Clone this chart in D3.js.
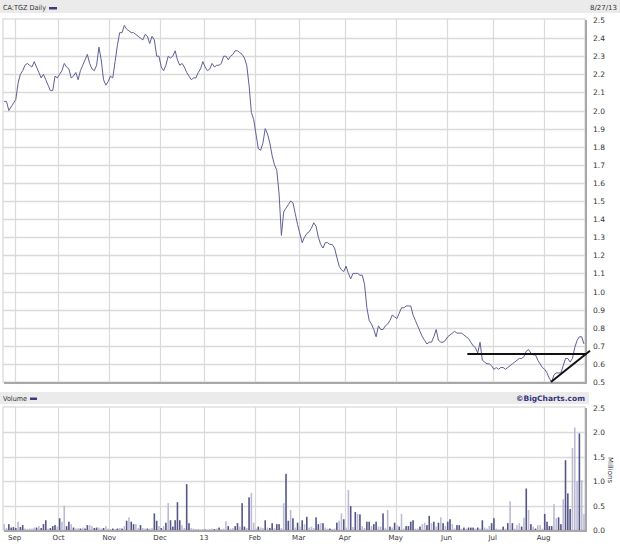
<!DOCTYPE html>
<html>
<head>
<meta charset="utf-8">
<script src="https://cdn.jsdelivr.net/npm/d3@7"></script>
<style>
  body { margin: 0; background: #fff; }
  svg text { font-family: "DejaVu Sans", sans-serif; fill: #333; }
</style>
</head>
<body>
<div id="chart"></div>
<script>
// daily closes, CA:TGZ, 8/28/12 .. 8/27/13 (trading days)
const closes = [
  2.05,2.05,2.00,2.02,2.04,2.06,2.15,2.20,2.22,2.25,
  2.26,2.25,2.24,2.27,2.24,2.21,2.18,2.20,2.17,2.14,
  2.11,2.11,2.19,2.18,2.20,2.22,2.26,2.24,2.23,2.18,
  2.19,2.21,2.17,2.22,2.25,2.28,2.31,2.26,2.23,2.22,
  2.25,2.35,2.28,2.17,2.14,2.16,2.19,2.18,2.27,2.36,
  2.43,2.43,2.47,2.45,2.44,2.43,2.43,2.42,2.41,2.40,
  2.39,2.42,2.41,2.37,2.41,2.39,2.30,2.30,2.24,2.22,
  2.25,2.30,2.29,2.30,2.33,2.28,2.25,2.26,2.24,2.21,
  2.19,2.17,2.18,2.18,2.21,2.23,2.27,2.24,2.22,2.23,
  2.26,2.24,2.25,2.25,2.26,2.30,2.30,2.28,2.30,2.31,
  2.33,2.33,2.32,2.31,2.29,2.25,2.14,1.99,1.95,1.87,
  1.79,1.78,1.82,1.90,1.87,1.82,1.75,1.70,1.67,1.54,
  1.31,1.44,1.46,1.48,1.50,1.49,1.43,1.37,1.32,1.27,
  1.30,1.32,1.33,1.35,1.38,1.36,1.30,1.26,1.24,1.27,
  1.27,1.26,1.26,1.24,1.19,1.14,1.12,1.11,1.14,1.10,
  1.07,1.10,1.10,1.10,1.09,1.09,1.04,0.91,0.84,0.82,
  0.79,0.75,0.81,0.79,0.79,0.81,0.82,0.84,0.87,0.86,
  0.85,0.88,0.91,0.91,0.92,0.92,0.92,0.87,0.84,0.81,
  0.78,0.75,0.73,0.71,0.72,0.72,0.75,0.79,0.73,0.72,
  0.72,0.73,0.75,0.76,0.77,0.78,0.77,0.77,0.77,0.76,
  0.75,0.74,0.72,0.70,0.69,0.66,0.72,0.62,0.61,0.60,
  0.60,0.59,0.57,0.58,0.57,0.58,0.58,0.57,0.58,0.59,
  0.60,0.61,0.62,0.63,0.63,0.64,0.67,0.68,0.66,0.65,
  0.65,0.62,0.60,0.58,0.57,0.55,0.52,0.50,0.54,0.55,
  0.55,0.55,0.59,0.63,0.63,0.61,0.63,0.69,0.73,0.75,
  0.75,0.71
];

// daily volume, millions
const volumes = [
  .12,.04,.12,.05,.06,.04,.17,.06,.10,.03,
  .02,.03,.03,.05,.05,.08,.04,.12,.20,.03,
  .04,.08,.10,.07,.24,.17,.50,.08,.17,.12,
  .05,.03,.04,.03,.05,.03,.10,.10,.08,.04,
  .05,.05,.03,.04,.08,.03,.02,.03,.02,.03,
  .04,.03,.08,.19,.26,.17,.12,.12,.04,.10,
  .04,.03,.03,.03,.04,.34,.19,.08,.04,.08,
  .15,.55,.20,.07,.20,.57,.20,.10,.04,.94,
  .14,.04,.03,.02,.02,.01,.02,.01,.01,.02,
  .03,.02,.03,.05,.02,.03,.18,.08,.03,.04,
  .08,.14,.07,.55,.07,.04,.67,.76,.15,.03,
  .07,.05,.04,.20,.05,.04,.14,.04,.12,.12,
  .04,.55,1.15,.19,.41,.24,.05,.15,.07,.20,
  .12,.27,.05,.07,.04,.26,.12,.14,.14,.05,
  .03,.03,.02,.03,.15,.19,.34,.22,.05,.82,
  .49,.06,.37,.33,.32,.08,.04,.17,.17,.08,
  .12,.17,.07,.07,.34,.04,.41,.07,.05,.15,
  .10,.07,.33,.03,.08,.08,.17,.20,.03,.03,
  .07,.12,.15,.10,.29,.14,.17,.07,.15,.26,
  .14,.08,.17,.22,.12,.03,.10,.10,.03,.05,
  .03,.05,.05,.05,.03,.05,.03,.20,.05,.03,
  .08,.14,.24,.03,.02,.01,.07,.03,.14,.59,
  .14,.03,.10,.14,.07,.25,.85,.41,.12,.07,
  .03,.10,.10,.03,.33,.17,.08,.08,.53,.24,
  .26,.12,.63,1.43,.75,.43,1.68,2.10,1.00,1.98,
  1.02,.33
];

// bar shade: 1 = dark, 0 = light
const volDark = [
  0,0,1,1,1,1,0,1,1,0, 0,0,0,0,1,0,1,1,1,0, 1,1,1,0,1,0,0,1,1,0,
  1,0,0,1,0,1,1,0,0,1, 1,0,0,1,0,0,0,1,0,1, 0,1,0,1,0,1,1,0,0,1,
  0,0,1,0,0,1,1,0,1,0, 1,0,1,1,1,1,1,0,0,1, 1,0,0,0,0,0,0,1,0,0,
  0,1,0,1,0,0,0,1,0,0, 1,1,0,1,1,0,1,0,0,0, 1,0,0,1,0,1,1,0,1,1,
  0,0,1,1,0,1,0,1,0,1, 0,1,0,0,0,1,1,0,1,0, 0,1,0,0,1,0,0,1,0,0,
  1,0,1,0,1,0,0,1,1,0, 1,1,0,0,1,0,0,1,0,1, 0,1,0,0,1,1,1,1,0,0,
  1,0,0,1,1,0,1,0,1,0, 1,0,1,1,0,0,1,1,0,1, 0,1,1,1,0,1,0,1,0,0,
  0,1,1,0,0,0,1,0,1,0, 1,0,0,0,1,0,1,0,1,0, 1,0,0,0,1,1,1,1,0,0,
  1,1,0,1,1,1,0,0,0,1, 0,0
];

const monthLabels = ["Sep","Oct","Nov","Dec","13","Feb","Mar","Apr","May","Jun","Jul","Aug"];
const monthStart = [5,24,46,68,87,109,128,148,170,192,212,234];   // index of first trading day
const priceTicks = [0.5,0.6,0.7,0.8,0.9,1.0,1.1,1.2,1.3,1.4,1.5,1.6,1.7,1.8,1.9,2.0,2.1,2.2,2.3,2.4,2.5];
const volTicks = [0,0.5,1.0,1.5,2.0,2.5];

// hand drawn trend lines (index, price)
const flatLine = [[200.5, 0.655], [252.2, 0.655]];
const riseLine = [[236.7, 0.50], [253.6, 0.673]];

const W = 620, H = 544;
const left = 3, right = 585;
const svg = d3.select("#chart").append("svg")
  .attr("width", W).attr("height", H);

var x = d3.scaleLinear().domain([0, closes.length - 1]).range([4.2, 584]);
var step = x(1) - x(0);
var yP = d3.scaleLinear().domain([0.5, 2.5]).range([382, 20]);
var yV = d3.scaleLinear().domain([0, 2.5]).range([530, 408]);

const gridCol = "#dadada", lineCol = "#5f5f95";

// header bands
svg.append("rect").attr("x", 0).attr("y", 0).attr("width", W).attr("height", 13).attr("fill", "#ebebeb");
svg.append("text").attr("x", 3).attr("y", 10).style("font-size", "7px")
  .attr("textLength", 43).attr("lengthAdjust", "spacingAndGlyphs").text("CA:TGZ Daily");
svg.append("rect").attr("x", 49).attr("y", 7).attr("width", 8).attr("height", 2.5).attr("fill", "#3c3c7c");
svg.append("text").attr("x", 617).attr("y", 10).attr("text-anchor", "end").style("font-size", "7px").text("8/27/13");

svg.append("rect").attr("x", 0).attr("y", 392).attr("width", 589).attr("height", 12).attr("fill", "#ebebeb");
svg.append("text").attr("x", 3).attr("y", 401).style("font-size", "7px")
  .attr("textLength", 24).attr("lengthAdjust", "spacingAndGlyphs").text("Volume");
svg.append("rect").attr("x", 30).attr("y", 397.5).attr("width", 7).attr("height", 2.5).attr("fill", "#3c3c7c");
svg.append("text").attr("x", 585).attr("y", 401).attr("text-anchor", "end")
  .style("font-size", "7.5px").style("font-weight", "bold").style("fill", "#34347a").text("\u00a9BigCharts.com");

function panel(top, bottom, yScale, ticks) {
  const g = svg.append("g");
  g.append("rect").attr("x", left).attr("y", top).attr("width", right - left).attr("height", bottom - top)
    .attr("fill", "#fff").attr("stroke", "#d0d0d0");
  g.selectAll(".hg").data(ticks.slice(1, -1)).enter().append("line")
    .attr("x1", left).attr("x2", right)
    .attr("y1", d => Math.round(yScale(d)) + 0.5).attr("y2", d => Math.round(yScale(d)) + 0.5)
    .attr("stroke", gridCol).attr("stroke-width", 1.4);
  g.selectAll(".vg").data(monthStart).enter().append("line")
    .attr("x1", d => Math.round(x(d) - step / 2) + 0.5).attr("x2", d => Math.round(x(d) - step / 2) + 0.5)
    .attr("y1", top).attr("y2", bottom)
    .attr("stroke", gridCol).attr("stroke-width", 1.2);
  // shadow on right & bottom
  g.append("path").attr("d", `M${right + 1},${top + 1}V${bottom + 1}H${left + 1}`)
    .attr("fill", "none").attr("stroke", "#a8a8a8").attr("stroke-width", 2);
  // axis labels
  g.selectAll(".tl").data(ticks).enter().append("text")
    .attr("x", 593).attr("y", d => yScale(d) + 3)
    .style("font-size", "7.5px").text(d => d.toFixed(1));
  return g;
}

panel(19, 382, yP, priceTicks);
panel(407, 530, yV, volTicks);

// price line
svg.append("path").datum(closes)
  .attr("fill", "none").attr("stroke", lineCol).attr("stroke-width", 1)
  .attr("d", d3.line().x((d, i) => x(i)).y(d => yP(d)));

// trend lines
const tl = d3.line().x(d => x(d[0])).y(d => yP(d[1]));
[flatLine, riseLine].forEach(seg => {
  svg.append("path").attr("d", tl(seg)).attr("stroke", "#111").attr("stroke-width", 2).attr("fill", "none");
});

// volume bars
svg.selectAll(".vb").data(volumes).enter().append("rect")
  .attr("x", (d, i) => x(i) - 0.8)
  .attr("width", 1.6)
  .attr("y", d => yV(d))
  .attr("height", d => yV(0) - yV(d))
  .attr("fill", (d, i) => volDark[i] ? "#55558a" : "#bcbbd3");

// Millions label
svg.append("text").attr("transform", "translate(608,470) rotate(90)")
  .attr("text-anchor", "middle").style("font-size", "7px").text("Millions");

// month labels
svg.selectAll(".ml").data(monthLabels).enter().append("text")
  .attr("x", (d, i) => x(monthStart[i]) - step / 2)
  .attr("y", 540).attr("text-anchor", "middle")
  .style("font-size", "7px").text(d => d);
</script>
</body>
</html>
